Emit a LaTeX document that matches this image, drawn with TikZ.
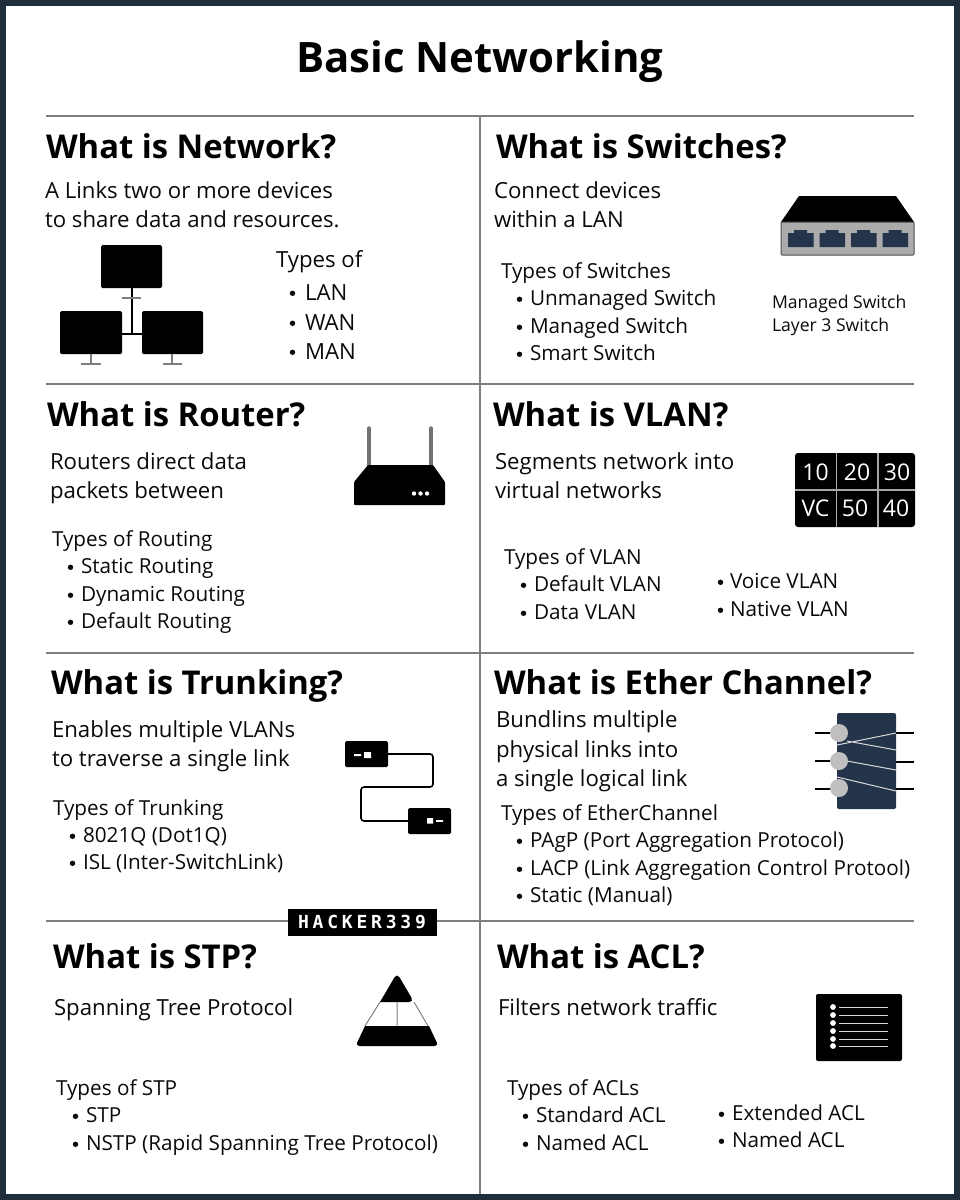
\documentclass[tikz,border=0pt]{standalone}
\usepackage{fontspec}
\setmainfont{Open Sans}
\newfontfamily\hackfont{DejaVu Sans Mono}
\definecolor{navy}{HTML}{1F2D3D}
\definecolor{port}{HTML}{24344A}
\definecolor{rule}{HTML}{7F7F7F}
\definecolor{ink}{HTML}{0A0A0A}
\newcommand{\T}[5][bodytxt]{\node[#1] (#2) at (#3,#4) {#5};}
\newcommand{\B}[6][bodytxt]{\node[dotmark] (#2b) at ([xshift=4.5pt,yshift=6.7pt]#3,#5) {};\node[#1] (#2) at (#4,#5) {#6};}
\tikzset{
  base/.style={anchor=base west,inner sep=0pt,outer sep=0pt,text=ink},
  titletxt/.style={anchor=base,inner sep=0pt,text=black,font=\fontsize{41.9}{50}\selectfont\bfseries},
  headtxt/.style={base,text=black,font=\fontsize{32.8}{38}\selectfont\bfseries},
  bodytxt/.style={base,font=\fontsize{22.2}{26}\selectfont},
  listtxt/.style={base,yshift=0.2pt,font=\fontsize{20.7}{25}\selectfont},
  smalltxt/.style={base,font=\fontsize{17.6}{21}\selectfont},
  dotmark/.style={circle,fill=ink,draw=none,inner sep=0pt,minimum size=5.4pt},
  rulel/.style={draw=rule,line width=1.5pt},
  gline/.style={draw=rule,line width=1.5pt},
  vtxt/.style={text=white,inner sep=0pt,font=\fontsize{23}{26}\selectfont},
}
\begin{document}
\begin{tikzpicture}[x=1pt,y=-1pt]
\useasboundingbox (0,0) rectangle (960,1200);
\fill[white] (0,0) rectangle (960,1200);
\draw[navy,line width=6pt] (3,3) rectangle (957,1197);
% rules
\coordinate (h1a) at (46,116); \coordinate (h1b) at (914,116);
\coordinate (h2a) at (46,384); \coordinate (h2b) at (914,384);
\coordinate (h3a) at (46,653); \coordinate (h3b) at (914,653);
\coordinate (h4a) at (46,921); \coordinate (h4b) at (914,921);
\coordinate (va) at (480,116); \coordinate (vb) at (480,1194);
\draw[rulel] (h1a)--(h1b) (h2a)--(h2b) (h3a)--(h3b) (h4a)--(h4b) (va)--(vb);
% title
\node[titletxt] (title) at (480,72) {Basic Networking};
% headings
\T[headtxt]{hA}{46}{158}{What is Network?}
\T[headtxt]{hB}{496}{158}{What is Switches?}
\T[headtxt]{hC}{47}{426}{What is Router?}
\T[headtxt]{hD}{493}{426}{What is VLAN?}
\T[headtxt]{hE}{51}{694}{What is Trunking?}
\T[headtxt]{hF}{494}{694}{What is Ether Channel?}
\T[headtxt]{hG}{53}{968}{What is STP?}
\T[headtxt]{hH}{497}{968}{What is ACL?}
% network
\T{a1}{45}{198}{A Links two or more devices}
\T{a2}{45}{227}{to share data and resources.}
\T{a3}{276}{267}{Types of}
\B{a4}{288}{305}{300}{LAN}
\B{a5}{288}{305}{330}{WAN}
\B{a6}{288}{305}{359}{MAN}
% switches
\T{b1}{494}{198}{Connect devices}
\T{b2}{494}{227}{within a LAN}
\T[listtxt]{b3}{501}{279}{Types of Switches}
\B[listtxt]{b4}{515}{530}{306}{Unmanaged Switch}
\B[listtxt]{b5}{515}{530}{334}{Managed Switch}
\B[listtxt]{b6}{515}{530}{361}{Smart Switch}
\T[smalltxt]{b7}{772}{308}{Managed Switch}
\T[smalltxt]{b8}{772}{331}{Layer 3 Switch}
% router
\T{c1}{50}{469}{Routers direct data}
\T{c2}{50}{498}{packets between}
\T[listtxt]{c3}{52}{547}{Types of Routing}
\B[listtxt]{c4}{66}{81}{574}{Static Routing}
\B[listtxt]{c5}{66}{81}{602}{Dynamic Routing}
\B[listtxt]{c6}{66}{81}{629}{Default Routing}
% vlan
\T{d1}{495}{469}{Segments network into}
\T{d2}{495}{498.5}{virtual networks}
\T[listtxt]{d3}{504}{565}{Types of VLAN}
\B[listtxt]{d4}{519}{534}{592}{Default VLAN}
\B[listtxt]{d5}{519}{534}{620}{Data VLAN}
\B[listtxt]{d6}{716}{730}{589}{Voice VLAN}
\B[listtxt]{d7}{716}{730}{617}{Native VLAN}
% trunking
\T{e1}{52}{737}{Enables multiple VLANs}
\T{e2}{52}{766}{to traverse a single link}
\T[listtxt]{e3}{53}{816}{Types of Trunking}
\B[listtxt]{e4}{68}{83}{843}{8021Q (Dot1Q)}
\B[listtxt]{e5}{68}{83}{870}{ISL (Inter-SwitchLink)}
% ether
\T{f1}{496}{727}{Bundlins multiple}
\T{f2}{496}{757}{physical links into}
\T{f3}{496}{786}{a single logical link}
\T[listtxt]{f4}{501}{821}{Types of EtherChannel}
\B[listtxt]{f5}{515}{530}{848}{PAgP (Port Aggregation Protocol)}
\B[listtxt]{f6}{515}{530}{876}{LACP (Link Aggregation Control Protool)}
\B[listtxt]{f7}{515}{530}{903}{Static (Manual)}
% stp
\T{g1}{54}{1015}{Spanning Tree Protocol}
\T[listtxt]{g2}{56}{1096}{Types of STP}
\B[listtxt]{g3}{71}{86}{1123}{STP}
\B[listtxt]{g4}{71}{86}{1151}{NSTP (Rapid Spanning Tree Protocol)}
% acl
\T{k1}{498}{1015}{Filters network traffic}
\T[listtxt]{k2}{507}{1096}{Types of ACLs}
\B[listtxt]{k3}{521}{536}{1123}{Standard ACL}
\B[listtxt]{k4}{521}{536}{1151}{Named ACL}
\B[listtxt]{k5}{717}{732}{1121}{Extended ACL}
\B[listtxt]{k6}{717}{732}{1148}{Named ACL}
% network icon
\draw[line width=1.6pt,black] (132,288)--(132,334) (122,334)--(142,334);
\draw[gline] (122,298)--(141,298) (91,354)--(91,364) (81,364)--(101,364) (172,354)--(172,364) (163,364)--(182,364);
\fill[black,rounded corners=1.5pt] (101,245) rectangle (162,288);
\fill[black,rounded corners=1.5pt] (60,311) rectangle (122,354);
\fill[black,rounded corners=1.5pt] (142,311) rectangle (203,354);
% switch icon
\fill[black] (799,196)--(896,196)--(914,222)--(781,222)--cycle;
\filldraw[fill=black!33,draw=black!70,line width=1pt,rounded corners=1pt] (781,222) rectangle (914,255);
\foreach \px in {788,819.5,851,882.5}{
  \fill[port] (\px,233)--(\px+6,233)--(\px+6,230)--(\px+19,230)--(\px+19,233)--(\px+25.5,233)--(\px+25.5,247)--(\px,247)--cycle;
}
% router icon
\draw[black!55,line width=3.4pt,line cap=round] (369,428)--(369,466) (431,428)--(431,466);
\fill[black,rounded corners=1pt] (368,465)--(433,465)--(445,482)--(445,505)--(354,505)--(354,482)--cycle;
\fill[white] (414,493.5) circle (2.2) (420.5,493.5) circle (2.2) (427,493.5) circle (2.2);
% vlan icon
\fill[black,rounded corners=3pt] (795,453) rectangle (915,527);
\draw[draw=black!35,line width=1.3pt] (836.5,453)--(836.5,527) (878,453)--(878,527) (795,490)--(915,490);
\node[vtxt] (v1) at (815.5,472) {10};
\node[vtxt] (v2) at (857,472) {20};
\node[vtxt] (v3) at (897,472) {30};
\node[vtxt] (v4) at (815.5,508) {VC};
\node[vtxt] (v5) at (855,508) {50};
\node[vtxt] (v6) at (896,508) {40};
% trunk icon
\draw[black,line width=1.6pt,rounded corners=3pt] (388,754)--(433,754)--(433,787)--(361,787)--(361,821)--(408,821);
\fill[black,rounded corners=1.5pt] (345,741) rectangle (388,767);
\fill[black,rounded corners=1.5pt] (408,808) rectangle (451,834);
\fill[white] (354,754.2) rectangle (361,756) (364,752) rectangle (371,758);
\fill[white] (427,818) rectangle (433,823.5) (436,820) rectangle (443,821.8);
% ether icon
\fill[port,rounded corners=2pt] (837,713) rectangle (896,809);
\draw[black,line width=1.5pt] (815,733)--(832,733) (815,761)--(832,761) (815,789)--(832,789) (896,733)--(914,733) (896,762)--(914,762) (896,789)--(914,789);
\draw[white!85!black,line width=1pt] (837,745)--(896,733) (847,741)--(896,750) (847,761)--(896,770) (837,777)--(896,791);
\fill[black!25] (839,733) circle (9) (839,761) circle (9) (839,788) circle (9);
% hacker label
\fill[black] (288,909) rectangle (437,936);
\node[text=white,inner sep=0pt,font=\hackfont\bfseries\fontsize{18}{20}\selectfont] (hk) at (362,922) {\addfontfeature{LetterSpace=21}HACKER339};
% stp icon
\draw[black!50,line width=1pt] (380,1002)--(365,1026) (414,1002)--(428,1026) (397,1002)--(397,1026);
\fill[black] (380,1002) [rounded corners=5pt] -- (397,973) -- (414,1002) [sharp corners] -- cycle;
\fill[black] (365,1026) [rounded corners=4pt] -- (355.5,1046) -- (438.5,1046) [sharp corners] -- (429,1026) -- cycle;
% acl icon
\fill[black,rounded corners=2pt] (816,994) rectangle (902,1061);
\foreach \ly in {1007,1015,1023,1031,1039,1046}{
  \fill[white] (833,\ly) circle (2.9);
  \draw[white!85!black,line width=1pt] (839,\ly)--(888,\ly);
}
\end{tikzpicture}
\end{document}
